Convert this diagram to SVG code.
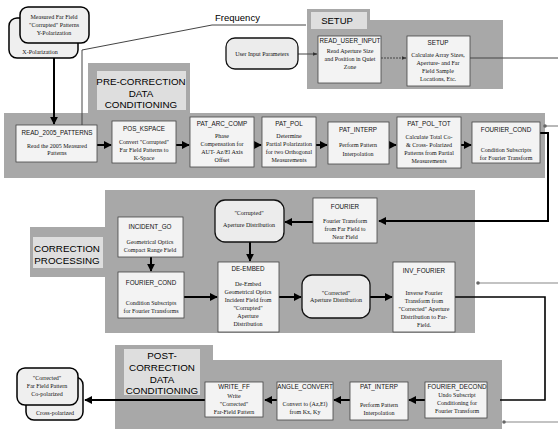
<svg xmlns="http://www.w3.org/2000/svg" width="558" height="429" viewBox="0 0 558 429">
<defs>
<marker id="ah" viewBox="0 0 10 10" refX="9" refY="5" markerWidth="4" markerHeight="4" orient="auto" markerUnits="strokeWidth"><path d="M0,0 L10,5 L0,10 z" fill="#000"/></marker>
<marker id="sa" viewBox="0 0 10 10" refX="9" refY="5" markerWidth="5" markerHeight="5" orient="auto" markerUnits="strokeWidth"><path d="M0,1 L10,5 L0,9 z" fill="#333"/></marker>
<marker id="dot" viewBox="0 0 10 10" refX="5" refY="5" markerWidth="3" markerHeight="3" markerUnits="strokeWidth"><circle cx="5" cy="5" r="5" fill="#666"/></marker>
</defs>
<style>
.panel{fill:#a8a8a8}
.lbl{fill:#dedede}
.box{fill:#f3f3f3;stroke:#444;stroke-width:0.8}
.rbox{fill:#ececec;stroke:#111;stroke-width:1.3}
.doc{fill:#efefef;stroke:#000;stroke-width:1.5}
.t{font-family:"Liberation Sans",Arial,sans-serif;font-size:6.3px;text-anchor:middle;fill:#111}
.s{font-family:"Liberation Serif","Times New Roman",serif;font-size:6px;text-anchor:middle;fill:#111}
.h{font-family:"Liberation Sans",Arial,sans-serif;font-size:9.8px;text-anchor:middle;fill:#000}
.flow{stroke:#000;stroke-width:2;fill:none;marker-end:url(#ah)}
.thin{stroke:#444;stroke-width:1;fill:none}
.gray{stroke:#888;stroke-width:1.2;fill:none;marker-start:url(#dot)}
</style>
<rect width="558" height="429" fill="#fff"/>

<!-- panels -->
<g id="setup-panel">
<polygon class="panel" points="307,9 370,9 370,20 503,20 503,89 307,89"/>
<rect class="lbl" x="311" y="12" width="56" height="17"/>
<text class="h" x="337" y="24" style="font-size:9.5px">SETUP</text>
</g>
<g id="pre-panel">
<polygon class="panel" points="88,63 190,63 190,113 545,113 545,178 4,178 4,113 88,113"/>
<rect class="lbl" x="97" y="71" width="89" height="39"/>
<text class="h" x="141" y="85">PRE-CORRECTION</text>
<text class="h" x="141" y="97">DATA</text>
<text class="h" x="141" y="108">CONDITIONING</text>
</g>
<g id="corr-panel">
<polygon class="panel" points="105,190 475,190 475,333 105,333 105,277 30,277 30,227 105,227"/>
<rect class="lbl" x="33" y="237" width="70" height="31"/>
<text class="h" x="67" y="252">CORRECTION</text>
<text class="h" x="67" y="264">PROCESSING</text>
</g>
<g id="post-panel">
<polygon class="panel" points="115,345 213,345 213,360 502,360 502,429 115,429"/>
<rect class="lbl" x="124" y="349" width="76" height="46"/>
<text class="h" x="162" y="359">POST-</text>
<text class="h" x="162" y="371">CORRECTION</text>
<text class="h" x="162" y="383">DATA</text>
<text class="h" x="162" y="394">CONDITIONING</text>
</g>

<!-- connectors -->
<g id="connectors">
<path class="flow" d="M54,43 V124"/>
<path class="thin" d="M82,125 V50 L212,25 H306" stroke="#777"/>
<text x="215" y="21" style="font-family:'Liberation Sans',Arial,sans-serif;font-size:9.5px;fill:#000">Frequency</text>
<path class="thin" d="M298,54 H317" marker-end="url(#sa)"/>
<path class="thin" d="M381,58 H406" stroke-dasharray="2,1" marker-end="url(#sa)"/>
<path class="thin" d="M470,58 H558"/>
<path class="gray" d="M545,126 H558"/>
<path class="gray" d="M478,283 H558"/>
<path class="gray" d="M504,422 H558"/>
<path class="flow" d="M97,145 H111"/>
<path class="flow" d="M176,145 H189"/>
<path class="flow" d="M254,145 H261"/>
<path class="flow" d="M316,145 H327"/>
<path class="flow" d="M389,145 H396"/>
<path class="flow" d="M461,145 H471"/>
<path class="flow" d="M540,133 H548 V221 H379" stroke-width="1.6"/>
<path class="flow" d="M151,257 V271"/>
<path class="flow" d="M250,242 V261"/>
<path class="flow" d="M313,222 H285"/>
<path class="flow" d="M184,297 H217"/>
<path class="flow" d="M279,297 H301"/>
<path class="flow" d="M370,297 H392"/>
<path d="M455,297 H545 V400 H500" stroke="#000" stroke-width="1.6" fill="none"/>
<path class="flow" d="M425,400 H409"/>
<path class="flow" d="M350,400 H334"/>
<path class="flow" d="M277,400 H265"/>
<path class="flow" d="M205,400 H85"/>
</g>

<!-- top-left documents -->
<g id="doc-x-pol">
<rect class="doc" x="9" y="18" width="69" height="40" rx="8"/>
<text class="s" x="40" y="54">X-Polarization</text>
</g>
<g id="doc-y-pol">
<rect class="doc" x="20" y="7" width="69" height="36" rx="8"/>
<text class="s" x="54" y="19">Measured Far Field</text>
<text class="s" x="54" y="27">"Corrupted" Patterns</text>
<text class="s" x="54" y="35">Y-Polarization</text>
</g>

<!-- setup -->
<g id="user-input">
<rect class="rbox" x="226" y="38" width="72" height="31" rx="9"/>
<text class="s" x="262" y="56">User Input Parameters</text>
</g>
<g id="read-user-input">
<rect class="box" x="318" y="36" width="63" height="47"/>
<text class="t" x="350" y="43">READ_USER_INPUT</text>
<text class="s" x="350" y="53">Read Aperture Size</text>
<text class="s" x="350" y="61">and Position in Quiet</text>
<text class="s" x="350" y="69">Zone</text>
</g>
<g id="setup">
<rect class="box" x="407" y="36" width="63" height="50"/>
<text class="t" x="438" y="45">SETUP</text>
<text class="s" x="438" y="57">Calculate Array Sizes,</text>
<text class="s" x="438" y="65">Aperture- and Far</text>
<text class="s" x="438" y="73">Field Sample</text>
<text class="s" x="438" y="81">Locations, Etc.</text>
</g>

<!-- pre-correction -->
<g id="read-2005-patterns">
<rect class="box" x="16" y="125" width="81" height="37"/>
<text class="t" x="57" y="135">READ_2005_PATTERNS</text>
<text class="s" x="57" y="148">Read the 2005 Measured</text>
<text class="s" x="57" y="155">Patterns</text>
</g>
<g id="pos-kspace">
<rect class="box" x="112" y="121" width="64" height="42"/>
<text class="t" x="144" y="131">POS_KSPACE</text>
<text class="s" x="144" y="144">Convert "Corrupted"</text>
<text class="s" x="144" y="152">Far Field Patterns to</text>
<text class="s" x="144" y="160">K-Space</text>
</g>
<g id="pat-arc-comp">
<rect class="box" x="190" y="117" width="64" height="50"/>
<text class="t" x="222" y="126">PAT_ARC_COMP</text>
<text class="s" x="222" y="138">Phase</text>
<text class="s" x="222" y="146">Compensation for</text>
<text class="s" x="222" y="154">AUT- Az/El Axis</text>
<text class="s" x="222" y="162">Offset</text>
</g>
<g id="pat-pol">
<rect class="box" x="262" y="117" width="54" height="50"/>
<text class="t" x="289" y="126">PAT_POL</text>
<text class="s" x="289" y="138">Determine</text>
<text class="s" x="289" y="146">Partial Polarization</text>
<text class="s" x="289" y="154">for two Orthogonal</text>
<text class="s" x="289" y="162">Measurements</text>
</g>
<g id="pat-interp-pre">
<rect class="box" x="328" y="122" width="61" height="42"/>
<text class="t" x="358" y="132">PAT_INTERP</text>
<text class="s" x="358" y="147">Perform Pattern</text>
<text class="s" x="358" y="156">Interpolation</text>
</g>
<g id="pat-pol-tot">
<rect class="box" x="397" y="117" width="64" height="51"/>
<text class="t" x="429" y="126">PAT_POL_TOT</text>
<text class="s" x="429" y="139">Calculate Total Co-</text>
<text class="s" x="429" y="147">&amp; Cross- Polarized</text>
<text class="s" x="429" y="155">Patterns from Partial</text>
<text class="s" x="429" y="163">Measurements</text>
</g>
<g id="fourier-cond-pre">
<rect class="box" x="472" y="122" width="68" height="41"/>
<text class="t" x="506" y="132">FOURIER_COND</text>
<text class="s" x="506" y="152">Condition Subscripts</text>
<text class="s" x="506" y="160">for Fourier Transform</text>
</g>

<!-- correction -->
<g id="incident-go">
<rect class="box" x="118" y="217" width="65" height="40"/>
<text class="t" x="150" y="229">INCIDENT_GO</text>
<text class="s" x="150" y="244">Geometrical Optics</text>
<text class="s" x="150" y="252">Compact Range Field</text>
</g>
<g id="fourier-cond-corr">
<rect class="box" x="118" y="272" width="66" height="46"/>
<text class="t" x="151" y="285">FOURIER_COND</text>
<text class="s" x="151" y="305">Condition Subscripts</text>
<text class="s" x="151" y="313">for Fourier Transforms</text>
</g>
<g id="corrupted-aperture">
<rect class="rbox" x="215" y="200" width="69" height="42" rx="10"/>
<text class="s" x="249" y="215">"Corrupted"</text>
<text class="s" x="249" y="227">Aperture Distribution</text>
</g>
<g id="de-embed">
<rect class="box" x="218" y="262" width="61" height="70"/>
<text class="t" x="248" y="271">DE-EMBED</text>
<text class="s" x="248" y="286">De-Embed</text>
<text class="s" x="248" y="294">Geometrical Optics</text>
<text class="s" x="248" y="302">Incident Field from</text>
<text class="s" x="248" y="310">"Corrupted"</text>
<text class="s" x="248" y="318">Aperture</text>
<text class="s" x="248" y="326">Distribution</text>
</g>
<g id="fourier">
<rect class="box" x="313" y="198" width="64" height="45"/>
<text class="t" x="345" y="209">FOURIER</text>
<text class="s" x="345" y="223">Fourier Transform</text>
<text class="s" x="345" y="231">from Far Field to</text>
<text class="s" x="345" y="239">Near Field</text>
</g>
<g id="corrected-aperture">
<rect class="rbox" x="302" y="275" width="68" height="43" rx="10"/>
<text class="s" x="336" y="295">"Corrected"</text>
<text class="s" x="336" y="302">Aperture Distribution</text>
</g>
<g id="inv-fourier">
<rect class="box" x="393" y="262" width="62" height="70"/>
<text class="t" x="424" y="273">INV_FOURIER</text>
<text class="s" x="424" y="295">Inverse Fourier</text>
<text class="s" x="424" y="303">Transform from</text>
<text class="s" x="424" y="311">"Corrected" Aperture</text>
<text class="s" x="424" y="319">Distribution to Far-</text>
<text class="s" x="424" y="327">Field.</text>
</g>

<!-- post-correction -->
<g id="write-ff">
<rect class="box" x="205" y="382" width="58" height="35"/>
<text class="t" x="234" y="389">WRITE_FF</text>
<text class="s" x="234" y="398">Write</text>
<text class="s" x="234" y="406">"Corrected"</text>
<text class="s" x="234" y="414">Far-Field Pattern</text>
</g>
<g id="angle-convert">
<rect class="box" x="277" y="382" width="56" height="38"/>
<text class="t" x="305" y="389">ANGLE_CONVERT</text>
<text class="s" x="305" y="406">Convert to (Az,El)</text>
<text class="s" x="305" y="414">from Kx, Ky</text>
</g>
<g id="pat-interp-post">
<rect class="box" x="350" y="382" width="58" height="38"/>
<text class="t" x="379" y="389">PAT_INTERP</text>
<text class="s" x="379" y="407">Perform Pattern</text>
<text class="s" x="379" y="415">Interpolation</text>
</g>
<g id="fourier-decond">
<rect class="box" x="425" y="382" width="62" height="36"/>
<text class="t" x="457" y="389">FOURIER_DECOND</text>
<text class="s" x="457" y="397">Undo Subscript</text>
<text class="s" x="457" y="405">Conditioning for</text>
<text class="s" x="457" y="413">Fourier Transform</text>
</g>

<!-- bottom-left documents -->
<g id="doc-cross-pol">
<rect class="doc" x="26" y="377" width="57" height="43" rx="8"/>
<text class="s" x="55" y="415">Cross-polarized</text>
</g>
<g id="doc-co-pol">
<rect class="doc" x="17" y="368" width="61" height="37" rx="8"/>
<text class="s" x="47" y="380">"Corrected"</text>
<text class="s" x="47" y="388">Far Field Pattern</text>
<text class="s" x="47" y="396">Co-polarized</text>
</g>
</svg>
